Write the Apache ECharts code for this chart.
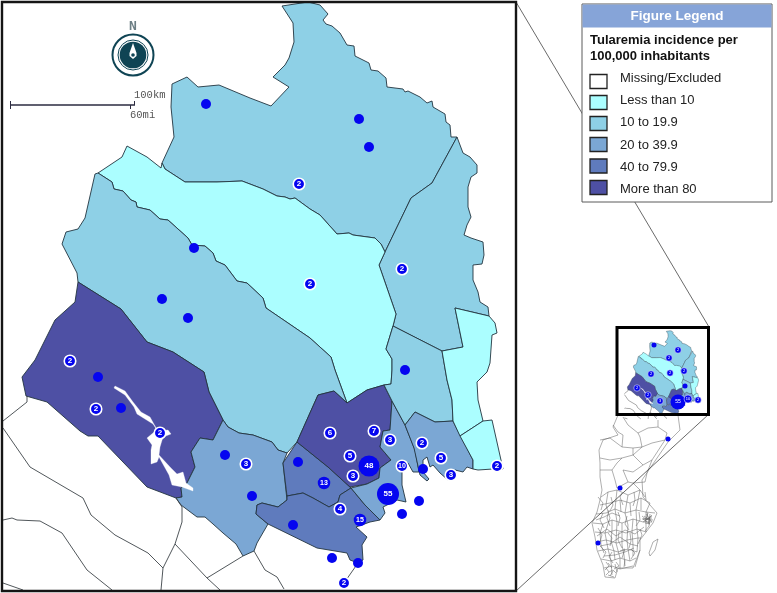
<!DOCTYPE html>
<html><head><meta charset="utf-8">
<style>html,body{margin:0;padding:0;background:#fff}#c{width:777px;height:593px}</style>
<script src="https://cdn.jsdelivr.net/npm/echarts@6/dist/echarts.min.js"></script>
</head><body><div id="c"></div>
<script>
// ---- incidence classes ----
const classLabels = ['Missing/Excluded','Less than 10','10 to 19.9','20 to 39.9','40 to 79.9','More than 80'];
const classColors = ['#ffffff','#abfeff','#8ed0e6','#7ba7d4','#5f7bbd','#4e50a4'];

// ---- region outlines (map units) ----
const northInland = [[172,84],[187,77],[198,87],[219,85],[250,98],[271,106],[289,87],[273,77],[285,65],[289,58],[294,42],[293,23],[282,6],[308,2],[320,5],[328,14],[323,20],[326,24],[332,26],[340,33],[347,45],[354,46],[355,56],[369,63],[371,70],[378,71],[386,78],[387,87],[403,89],[405,92],[408,91],[420,97],[427,103],[432,101],[433,107],[445,114],[446,122],[450,125],[451,137],[457,137],[432,183],[411,198],[385,252],[381,244],[375,238],[353,235],[349,233],[337,234],[320,215],[310,209],[295,198],[290,199],[285,197],[277,196],[263,189],[242,181],[217,182],[185,182],[165,169],[162,163],[174,137],[171,107]];
const northCoast = [[457,137],[463,153],[470,157],[477,165],[477,173],[471,177],[468,187],[468,207],[471,217],[467,225],[464,235],[471,238],[483,242],[484,255],[482,264],[473,265],[473,280],[478,292],[480,302],[488,307],[489,316],[455,308],[463,347],[442,351],[393,326],[396,314],[379,265],[385,252],[411,198],[432,183]];
const centralBand = [[98,173],[122,157],[127,146],[147,157],[161,168],[162,163],[165,169],[185,182],[217,182],[242,181],[263,189],[277,196],[285,197],[290,199],[295,198],[310,209],[320,215],[337,234],[349,233],[353,235],[375,238],[381,244],[385,252],[379,265],[396,314],[393,326],[386,349],[392,359],[392,370],[391,384],[384,385],[367,390],[347,403],[335,370],[331,357],[310,338],[266,308],[263,298],[247,283],[237,281],[225,265],[216,261],[213,253],[205,246],[192,245],[188,238],[168,220],[160,219],[150,210],[137,207],[136,202],[131,200],[123,191],[114,189],[112,182]];
const westForest = [[95,174],[98,173],[112,182],[114,189],[123,191],[131,200],[136,202],[137,207],[150,210],[160,219],[168,220],[188,238],[192,245],[205,246],[213,253],[216,261],[225,265],[237,281],[247,283],[263,298],[266,308],[310,338],[331,357],[335,370],[347,403],[334,391],[318,395],[297,442],[287,453],[278,450],[272,442],[253,435],[239,433],[228,427],[223,420],[209,392],[204,372],[173,352],[147,342],[121,309],[78,282],[77,273],[62,244],[66,232],[78,229],[85,218]];
const westHigh = [[78,282],[121,309],[147,342],[173,352],[204,372],[209,392],[223,420],[213,440],[200,438],[191,452],[195,467],[187,483],[181,488],[182,497],[176,498],[147,487],[98,436],[88,436],[80,431],[47,402],[26,396],[22,377],[35,360],[55,320],[75,302]];
const lakeWater = [[115,386],[125,391],[133,402],[141,412],[150,417],[155,426],[158,431],[168,430],[171,434],[163,437],[160,447],[159,455],[170,467],[177,474],[183,472],[186,483],[193,488],[193,491],[182,487],[172,485],[169,475],[159,457],[157,462],[151,464],[151,450],[152,445],[147,438],[153,433],[157,430],[153,424],[137,414],[134,407],[125,395],[114,388]];
const southWest = [[223,420],[228,427],[239,433],[253,435],[272,442],[278,450],[287,453],[283,463],[287,500],[278,507],[262,503],[257,505],[256,514],[268,524],[257,543],[254,551],[243,556],[236,544],[223,533],[213,524],[205,517],[197,517],[181,505],[176,498],[182,497],[181,488],[187,483],[195,467],[191,452],[200,438],[213,440]];
const midBlock = [[297,442],[283,463],[287,496],[303,493],[313,498],[329,507],[338,502],[340,495],[351,488],[328,467]];
const coastBlock = [[256,514],[257,505],[262,503],[278,507],[287,500],[287,496],[303,493],[313,498],[329,507],[338,502],[340,495],[351,488],[365,505],[380,520],[370,522],[356,527],[367,537],[362,545],[363,560],[358,563],[350,560],[347,553],[317,548],[268,524]];
const highCore = [[347,403],[367,390],[384,385],[392,401],[390,430],[383,431],[380,447],[391,460],[380,468],[379,478],[367,484],[350,487],[328,467],[297,442],[318,395],[334,391]];
const capitalBlock = [[392,401],[405,425],[415,450],[419,472],[413,472],[408,463],[402,466],[402,485],[406,502],[397,500],[383,507],[385,513],[380,520],[365,505],[351,488],[367,484],[379,478],[380,468],[391,460],[380,447],[383,431],[390,430]];
const eastMid = [[393,326],[442,351],[447,380],[452,400],[453,421],[435,422],[415,412],[405,425],[392,401],[384,385],[391,384],[392,370],[392,359],[386,349]];
const eastBlock = [[405,425],[415,412],[435,422],[453,421],[460,435],[473,460],[473,469],[467,467],[463,472],[455,470],[448,480],[440,473],[433,465],[430,467],[427,457],[423,460],[423,472],[429,479],[427,481],[420,475],[414,448]];
const eastLow = [[442,351],[463,347],[455,308],[489,316],[495,323],[497,333],[492,335],[490,363],[487,372],[477,382],[478,400],[483,421],[460,436],[453,421],[452,400],[447,380]];
const eastTip = [[460,436],[483,421],[492,420],[503,469],[493,469],[478,470],[473,469],[473,460]];

const regionList = [
  {name:'northInland',ring:northInland,cls:2},{name:'northCoast',ring:northCoast,cls:2},
  {name:'centralBand',ring:centralBand,cls:1},{name:'westForest',ring:westForest,cls:2},
  {name:'westHigh',ring:westHigh,cls:5},{name:'southWest',ring:southWest,cls:3},
  {name:'midBlock',ring:midBlock,cls:4},{name:'coastBlock',ring:coastBlock,cls:4},
  {name:'highCore',ring:highCore,cls:5},{name:'capitalBlock',ring:capitalBlock,cls:3},
  {name:'eastMid',ring:eastMid,cls:2},{name:'eastBlock',ring:eastBlock,cls:3},
  {name:'eastLow',ring:eastLow,cls:1},{name:'eastTip',ring:eastTip,cls:1},
  {name:'lakeWater',ring:lakeWater,cls:0}
];

// ---- neighbouring (missing) municipalities ----
const missingBorders = [
  [[27,396],[27,402],[3,421]],
  [[3,428],[30,467],[83,498],[91,515],[115,535],[148,553],[163,568],[175,544],[182,522],[182,507],[176,498]],
  [[3,520],[12,518],[17,520],[40,521],[62,533],[87,570],[112,590]],
  [[3,583],[23,590]],
  [[163,568],[161,590]],
  [[175,544],[207,578],[220,590]],
  [[207,578],[243,556]],
  [[254,551],[265,570],[277,577],[284,589]],
  [[358,563],[344,583]]
];

// ---- rest of the country, small overview ----
const countryOutline = [[618,415],[613,427],[618,435],[603,440],[599,450],[600,463],[600,477],[602,490],[600,500],[597,512],[592,523],[595,537],[597,550],[603,565],[605,577],[615,578],[618,568],[633,568],[640,550],[640,540],[653,523],[657,513],[643,497],[642,480],[668,442],[680,430],[678,415]];
const countryBorders = [
  [[623,417],[628,425],[638,433],[640,437]],[[658,420],[658,427],[667,433],[665,440]],
  [[638,433],[648,428],[658,427]],[[640,437],[642,447],[652,443],[665,440]],
  [[613,425],[618,432],[623,435],[622,447],[633,448],[642,447]],[[600,440],[610,438],[622,447]],
  [[600,458],[610,460],[622,458],[633,455],[642,447]],[[633,448],[633,455],[643,465]],
  [[600,470],[612,470],[617,463],[622,458]],[[612,470],[615,480],[617,488]],
  [[623,470],[633,472],[643,465],[652,460],[665,440]],[[652,460],[647,473],[645,482]],
  [[623,470],[628,482],[633,483],[645,482]],[[617,488],[628,482]],[[633,483],[640,490],[645,497]],
  [[601,497],[608,492],[617,490],[628,495],[640,490]],
  [[600,505],[610,503],[620,500],[630,503],[641,498],[650,503]],
  [[596,514],[606,513],[615,509],[625,513],[636,510],[646,512],[655,513]],
  [[593,523],[603,524],[612,520],[622,523],[633,519],[643,522],[652,522]],
  [[595,532],[605,533],[616,530],[626,533],[637,529],[646,532]],
  [[596,542],[606,540],[617,543],[627,540],[638,538],[641,538]],
  [[598,551],[608,549],[618,552],[628,549],[637,552]],
  [[601,559],[611,561],[620,558],[630,561],[636,558]],
  [[604,568],[612,566],[620,569],[633,566]],
  [[608,492],[606,505],[610,518],[605,533],[608,549],[611,561],[612,575]],
  [[617,490],[615,509],[617,522],[616,543],[620,558],[620,569]],
  [[628,495],[625,513],[628,525],[627,540],[628,549],[630,561]],
  [[640,490],[636,510],[637,529],[638,538],[637,552]],
  [[650,503],[646,512],[646,532]],
  [[603,524],[600,533],[601,545],[604,553]],[[612,520],[612,530],[611,541],[614,551],[615,560]],
  [[622,523],[622,533],[622,545],[624,555],[625,566]],[[633,519],[632,531],[633,545],[633,556]],
  [[620,500],[621,512]],[[630,503],[631,516]],[[641,498],[641,510]],
  [[606,568],[609,572],[606,575]],[[609,572],[613,570],[616,573]],[[608,563],[612,568]],[[615,564],[617,572]],
  [[598,497],[603,503],[601,510]],[[611,497],[613,505],[610,511]],[[622,493],[620,497],[623,505]],
  [[634,492],[635,500],[633,506]],[[645,492],[646,500]],[[603,513],[600,520],[604,528]],
  [[609,510],[607,518],[610,526]],[[618,512],[620,518],[618,526]],[[627,516],[625,524],[629,530]],
  [[639,512],[640,520],[636,526]],[[650,514],[649,526],[645,531]],[[598,528],[602,535],[600,542]],
  [[608,533],[612,538],[610,546]],[[619,532],[618,540],[622,548]],[[630,533],[631,541],[629,548]],
  [[640,529],[642,535],[638,544]],[[600,546],[606,552],[603,558]],[[612,552],[609,557],[613,563]],
  [[620,551],[625,549],[622,558]],[[631,549],[635,553],[631,559]],[[606,562],[609,566],[605,570]],
  [[613,571],[610,576]],[[616,562],[619,566],[614,569]],[[625,560],[624,567]],
  [[596,520],[604,517],[612,513],[620,516]],[[597,536],[607,529],[616,536],[625,530],[635,534],[644,527]],
  [[600,546],[610,544],[620,537],[630,544],[638,546]],[[604,556],[615,555],[625,552],[634,548]],[[608,575],[614,577]],
  [[642,516],[647,520],[652,515]],[[645,523],[650,524],[643,519],[653,520]],[[648,513],[645,522]],[[650,516],[649,523]],[[644,516],[651,521]],
  [[646,514],[652,522]],[[652,516],[643,522]],[[647,512],[649,524]],[[642,519],[652,518]],
  [[658,539],[653,542],[649,553],[650,556],[655,550],[658,539]],
  [[640,550],[635,567]]
];

// ---- case sites ----
const unlabelledSites = [[206,104],[359,119],[369,147],[194,248],[162,299],[188,318],[405,370],[98,377],[121,408],[225,455],[252,496],[298,462],[293,525],[423,469],[419,501],[402,514],[332,558],[358,563]];
const countedSites = [[299,184,2],[310,284,2],[402,269,2],[70,361,2],[96,409,2],[160,433,2],[246,464,3],[330,433,6],[374,431,7],[390,440,3],[350,456,5],[353,476,3],[402,466,10],[422,443,2],[441,458,5],[451,475,3],[497,466,2],[340,509,4],[344,583,2],[324,483,13],[360,520,15],[369,466,48],[388,494,55]];
const overviewSites = [[654,345,1],[678,350,2],[669,358,2],[651,374,2],[670,373,2],[684,371,2],[685,386,1],[637,388,2],[648,395,2],[660,401,3],[678,402,55],[688,399,10],[698,400,2]];
const countrySites = [[668,439],[620,488],[598,543]];

const flip = p => [p[0], -p[1], p[2]];
const geoJson = {type:'FeatureCollection',features:regionList.map(r=>({type:'Feature',properties:{name:r.name},
  geometry:{type:'Polygon',coordinates:[r.ring.concat([r.ring[0]]).map(p=>[p[0],-p[1]])]}}))};
echarts.registerMap('county', geoJson);

const bounds = [[0,0],[777,-593]];
const regionStyles = w => regionList.map(r=>({name:r.name,itemStyle:{
  areaColor:classColors[r.cls],
  borderColor:r.name==='lakeWater'?'#ffffff':'#22343f',
  borderWidth:r.name==='lakeWater'?0.3:w}}));
const geoBase = {map:'county',boundingCoords:bounds,aspectScale:1,roam:false,silent:true,
  label:{show:false},emphasis:{disabled:true},select:{disabled:true}};

const chart = echarts.init(document.getElementById('c'),null,{renderer:'canvas'});
const lineData = arr => arr.map(l=>({coords:l.map(p=>[p[0],-p[1]])}));
const linesSeries = (arr,geoIndex,color,width) => ({type:'lines',coordinateSystem:'geo',geoIndex,polyline:true,silent:true,
  data:lineData(arr),lineStyle:{color,width,opacity:1},effect:{show:false},z:2});
const mainSize = n => n>=55?22:n>=48?21:n>=13?12.5:11.5;

const gfx = [];
// overview frame links
gfx.push({type:'line',z:5,shape:{x1:516,y1:2,x2:709,y2:327},style:{stroke:'#444',lineWidth:0.8}});
gfx.push({type:'line',z:5,shape:{x1:516,y1:591,x2:709,y2:414},style:{stroke:'#444',lineWidth:0.8}});
gfx.push({type:'rect',z:6,shape:{x:2,y:2,width:514,height:589},style:{fill:'none',stroke:'#151515',lineWidth:2.4}});
gfx.push({type:'rect',z:6,shape:{x:617,y:327.5,width:91.5,height:87},style:{fill:'none',stroke:'#000',lineWidth:3}});
// compass
const teal='#0f4454';
gfx.push({type:'circle',z:6,shape:{cx:133,cy:55,r:20.5},style:{fill:'#fff',stroke:teal,lineWidth:2}});
gfx.push({type:'circle',z:6,shape:{cx:133,cy:55,r:15},style:{fill:'#fff',stroke:teal,lineWidth:1}});
gfx.push({type:'circle',z:6,shape:{cx:133,cy:55,r:13.3},style:{fill:teal}});
gfx.push({type:'polygon',z:7,shape:{points:[[133,43],[136.5,53],[136.5,56],[133,59],[129.5,56],[129.5,53]]},style:{fill:'#fff'}});
gfx.push({type:'circle',z:8,shape:{cx:133,cy:55,r:1.8},style:{fill:teal}});
gfx.push({type:'text',z:6,style:{x:133,y:27,text:'N',fill:'#6d7f85',font:'bold 13px "DejaVu Sans Mono"',textAlign:'center',textVerticalAlign:'middle'}});
// scale bar
const ink='#2b2b40';
gfx.push({type:'line',z:6,shape:{x1:10,y1:105,x2:135,y2:105},style:{stroke:ink,lineWidth:1.6}});
gfx.push({type:'line',z:6,shape:{x1:10.5,y1:101,x2:10.5,y2:109},style:{stroke:ink,lineWidth:1}});
gfx.push({type:'line',z:6,shape:{x1:134.5,y1:101,x2:134.5,y2:105},style:{stroke:ink,lineWidth:1}});
gfx.push({type:'line',z:6,shape:{x1:130.5,y1:105,x2:130.5,y2:109},style:{stroke:ink,lineWidth:1}});
gfx.push({type:'text',z:6,style:{x:134,y:95,text:'100km',fill:'#555',font:'10.5px "Liberation Mono"',textVerticalAlign:'middle'}});
gfx.push({type:'text',z:6,style:{x:130,y:115,text:'60mi',fill:'#555',font:'10.5px "Liberation Mono"',textVerticalAlign:'middle'}});
// legend
gfx.push({type:'rect',z:10,shape:{x:582,y:4,width:190,height:198},style:{fill:'#fff',stroke:'#5a5a5a',lineWidth:1}});
gfx.push({type:'rect',z:11,shape:{x:582.5,y:4.5,width:189,height:23},style:{fill:'#86a4d8'}});
gfx.push({type:'text',z:12,style:{x:677,y:16,text:'Figure Legend',fill:'#fff',font:'bold 13.5px "Liberation Sans"',textAlign:'center',textVerticalAlign:'middle'}});
gfx.push({type:'text',z:12,style:{x:590,y:40,text:'Tularemia incidence per',fill:'#111',font:'bold 13px "Liberation Sans"',textVerticalAlign:'middle'}});
gfx.push({type:'text',z:12,style:{x:590,y:56,text:'100,000 inhabitants',fill:'#111',font:'bold 13px "Liberation Sans"',textVerticalAlign:'middle'}});
const swatchTop=[74.5,95.5,116.5,137.5,159,180.5], textMid=[78,100,122.5,145,167,189.5];
classLabels.forEach((t,i)=>{
  gfx.push({type:'rect',z:12,shape:{x:590,y:swatchTop[i],width:17,height:14},style:{fill:classColors[i],stroke:'#222',lineWidth:1.3}});
  gfx.push({type:'text',z:12,style:{x:620,y:textMid[i],text:t,fill:'#222',font:'13px "Liberation Sans"',textVerticalAlign:'middle'}});
});

chart.setOption({
  animation:false,
  backgroundColor:'#ffffff',
  geo:[
    Object.assign({},geoBase,{left:0,top:0,width:777,height:593,regions:regionStyles(0.9),itemStyle:{areaColor:'#fff',borderColor:'#22343f',borderWidth:0.9},z:1}),
    Object.assign({},geoBase,{left:624,top:330.4,width:116.55,height:88.95,regions:regionStyles(0.35),itemStyle:{areaColor:'#fff',borderColor:'#22343f',borderWidth:0.35},z:1})
  ],
  series:[
    linesSeries(missingBorders,0,'#3d4448',0.9),
    linesSeries(missingBorders.slice(0,8),1,'#555',0.5),
    linesSeries([countryOutline].concat(countryBorders),0,'#5e5e5e',0.5),
    {type:'scatter',coordinateSystem:'geo',geoIndex:0,silent:true,z:4,symbolSize:10,
      data:unlabelledSites.map(flip),itemStyle:{color:'#0505f0',opacity:1}},
    {type:'scatter',coordinateSystem:'geo',geoIndex:0,silent:true,z:4,
      data:countedSites.map(s=>({value:flip(s),symbolSize:mainSize(s[2]),
        itemStyle:{color:'#0505f0',opacity:1,borderColor:'#fff',borderWidth:s[2]<=10?1.6:0},
        label:{show:true,position:'inside',formatter:String(s[2]),color:'#fff',fontFamily:'Liberation Sans',fontWeight:'bold',fontSize:s[2]>=48?8:(s[2]>=10?7:8)}}))},
    {type:'scatter',coordinateSystem:'geo',geoIndex:0,silent:true,z:4,
      data:overviewSites.map(s=>({value:flip(s),symbolSize:s[2]>=55?15:s[2]>=10?8:s[2]===1?5:6.5,
        itemStyle:{color:'#0505f0',opacity:1,borderColor:'#fff',borderWidth:s[2]>=55||s[2]===1?0:0.5},
        label:{show:s[2]>1,position:'inside',formatter:String(s[2]),color:'#fff',fontFamily:'Liberation Sans',fontSize:s[2]>=55?5:4}}))},
    {type:'scatter',coordinateSystem:'geo',geoIndex:0,silent:true,z:4,symbolSize:5,
      data:countrySites.map(flip),itemStyle:{color:'#0505f0',opacity:1}}
  ],
  graphic:{elements:gfx}
});
</script></body></html>
